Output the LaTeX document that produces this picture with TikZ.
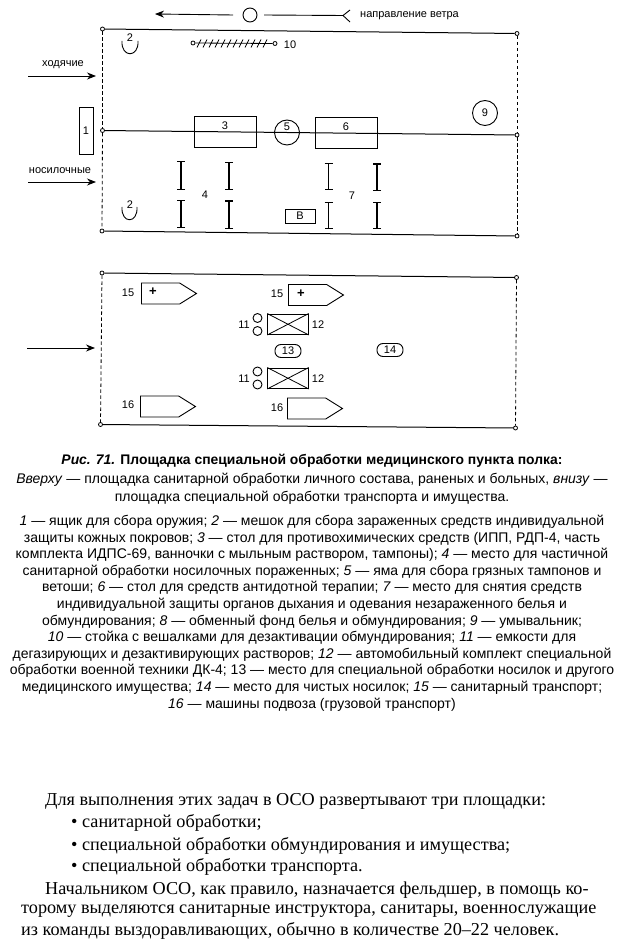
\documentclass[tikz,border=0pt]{standalone}
\usepackage{fontspec}
\setmainfont{Liberation Serif}
\newfontfamily\capfont{Liberation Sans}
\usetikzlibrary{arrows.meta}
\usetikzlibrary{shapes.symbols}
\newcommand{\ii}[1]{\textit{#1}}
\begin{document}
\begin{tikzpicture}[x=1pt, y=-1pt,
    lbl/.style={font=\capfont\fontsize{11}{12}\selectfont, inner sep=0pt},
    pin/.style={circle, draw, fill=white, line width=0.8pt, minimum size=4pt, inner sep=0pt},
    box/.style={rectangle, draw, line width=0.9pt, inner sep=0pt, font=\capfont\fontsize{11}{12}\selectfont},
    ring/.style={circle, draw, line width=0.9pt, inner sep=0pt, font=\capfont\fontsize{11}{12}\selectfont},
    oval/.style={rectangle, rounded corners=6pt, draw, line width=0.9pt, minimum width=26pt, minimum height=13pt, inner sep=0pt, font=\capfont\fontsize{11}{12}\selectfont},
    truck/.style={shape=signal, signal to=east, signal from=nowhere, signal pointer angle=64, draw, line width=0.9pt, minimum width=55pt, minimum height=21pt, inner sep=0pt, anchor=west},
    border/.style={line width=1pt},
    fence/.style={line width=0.8pt, dashed, dash pattern=on 3.5pt off 2.5pt},
    flow/.style={-{Stealth[length=9pt, width=7pt]}, line width=0.9pt},
    post/.style={{Bar[width=8pt]}-{Bar[width=8pt]}, line width=1.1pt},
    capline/.style={font=\capfont\fontsize{14}{16.6}\selectfont, align=center, inner sep=0pt},
    bodyline/.style={font=\fontsize{18.2}{20}\selectfont, inner sep=0pt, anchor=west},
  ]
  \useasboundingbox (0,0) rectangle (624,941);

  % wind
  \node[ring, minimum size=14pt] (wind) at (250,15) {};
  \coordinate (windhead) at (155,14);
  \coordinate (windtail) at (343,15.5);
  \draw[flow] (wind) ++(-17,0) -- (windhead);
  \draw[line width=0.9pt] (264,15) -- (windtail);
  \draw[line width=0.9pt] (350,10) -- (windtail) -- (350,22);
  \node[lbl, anchor=west] (windtext) at (360,16) {направление ветра};

  % upper site
  \node[pin] (ul) at (102.5,29) {};
  \node[pin] (ur) at (517,33.5) {};
  \node[pin] (ml) at (102.5,130.5) {};
  \node[pin] (mr) at (517,135) {};
  \node[pin] (ll) at (102,231) {};
  \node[pin] (lr) at (517,236) {};
  \draw[border] (ul) -- (ur);
  \draw[border] (ll) -- (lr);
  \draw[fence] (ul) -- (ml);
  \draw[fence] (ml) -- (ll);
  \draw[fence] (ur) -- (mr);
  \draw[fence] (mr) -- (lr);

  \draw[border] (ml) -- (mr);
  \node[box, minimum width=14pt, minimum height=47pt] (ammo) at (86,130.5) {1};
  \node[box, minimum width=62pt, minimum height=31pt] (table3) at (225,131.5) {};
  \node[lbl] (n3) at (225,126) {3};
  \node[ring, minimum size=25pt] (pit) at (287,132.5) {};
  \node[lbl] (n5) at (287,127) {5};
  \node[box, minimum width=62pt, minimum height=31pt] (table6) at (346,132.5) {};
  \node[lbl] (n6) at (346,127) {6};
  \node[ring, minimum size=25pt] (wash) at (485,113) {9};
  \node[box, minimum width=30pt, minimum height=14pt] (fund) at (300,216) {В};

  % bags
  \draw[line width=0.9pt] (122,41) .. controls (121,58) and (139,58) .. (138,41);
  \node[lbl] (bag1) at (130,38) {2};
  \draw[line width=0.9pt] (122,207) .. controls (121,224) and (138,224) .. (137,207);
  \node[lbl] (bag2) at (130,205) {2};

  % rack
  \node[pin] (racka) at (193,43) {};
  \node[pin] (rackb) at (275,43.5) {};
  \draw[line width=0.8pt] (racka) -- (rackb);
  \foreach \x in {199,205,...,268}
    \draw[line width=0.7pt] (\x-2,47.5) -- (\x+2,39.5);
  \node[lbl] (n10) at (290,44.5) {10};

  % incoming
  \coordinate (walkin) at (28,76);
  \coordinate (walkend) at (96,76);
  \coordinate (carryin) at (28,182);
  \coordinate (carryend) at (96,182);
  \draw[flow] (walkin) -- (walkend);
  \draw[flow] (carryin) -- (carryend);
  \node[lbl] (walk) at (63,65) {ходячие};
  \node[lbl] (carry) at (60,171) {носилочные};

  % stands
  \foreach \x/\a/\b/\c/\d in {181/161/190/200/228, 229/162/190/200.5/229, 328.5/163/190/202/229, 377/163.5/191/202/229} {
    \draw[post] (\x,\a) -- (\x,\b);
    \draw[post] (\x,\c) -- (\x,\d);
  }
  \node[lbl] (n4) at (205,195) {4};
  \node[lbl] (n7) at (352,196) {7};

  % lower site
  \node[pin] (tl) at (102,273) {};
  \node[pin] (tr) at (516.5,277.5) {};
  \node[pin] (bl) at (100.5,424.5) {};
  \node[pin] (br) at (515.5,428) {};
  \draw[border] (tl) -- (tr);
  \draw[border] (bl) -- (br);
  \draw[fence] (tl) -- (bl);
  \draw[fence] (tr) -- (br);
  \coordinate (carin) at (27,348);
  \coordinate (carend) at (95,348);
  \draw[flow] (carin) -- (carend);

  \node[truck] (amb1) at (141,293.5) {};
  \node[truck] (amb2) at (288,295) {};
  \node[truck] (sup1) at (140,406.5) {};
  \node[truck] (sup2) at (287,408.5) {};
  \node[lbl] (n15a) at (128,293) {15};
  \node[lbl] (n15b) at (277,294) {15};
  \node[lbl] (n16a) at (128,405) {16};
  \node[lbl] (n16b) at (277,408) {16};
  \node[lbl, font=\capfont\bfseries\fontsize{13}{13}\selectfont] (plus1) at (153,292) {+};
  \node[lbl, font=\capfont\bfseries\fontsize{13}{13}\selectfont] (plus2) at (301,294) {+};

  \foreach \k/\y/\cy in {a/324.25/318, b/378.25/371.5} {
    \node[box, minimum width=40.5pt, minimum height=20.5pt] (kit\k) at (288,\y) {};
    \draw[line width=0.8pt] (kit\k.north west) -- (kit\k.south east);
    \draw[line width=0.8pt] (kit\k.south west) -- (kit\k.north east);
    \node[ring, minimum size=9pt] (cana\k) at (257.5,\cy) {};
    \node[ring, minimum size=9pt] (canb\k) at (257.5,\cy+13) {};
    \node[lbl] (n11\k) at (244,\y) {11};
    \node[lbl] (n12\k) at (318,\y) {12};
  }
  \node[oval] (n13) at (288,351) {13};
  \node[oval] (n14) at (390,350) {14};

  % text
  \node[capline, font=\capfont\bfseries\fontsize{13.9}{16}\selectfont] (title) at (312,461)
    {\textit{Рис. 71.} Площадка специальной обработки медицинского пункта полка:};
  \node[capline, font=\capfont\fontsize{14}{18}\selectfont] (sub) at (312,489)
    {\ii{Вверху} — площадка санитарной обработки личного состава, раненых и больных, \ii{внизу} —\\
     площадка специальной обработки транспорта и имущества.};
  \node[capline] (legend) at (312,613)
    {\ii{1} — ящик для сбора оружия; \ii{2} — мешок для сбора зараженных средств индивидуальной\\
     защиты кожных покровов; \ii{3} — стол для противохимических средств (ИПП, РДП-4, часть\\
     комплекта ИДПС-69, ванночки с мыльным раствором, тампоны); \ii{4} — место для частичной\\
     санитарной обработки носилочных пораженных; \ii{5} — яма для сбора грязных тампонов и\\
     ветоши; \ii{6} — стол для средств антидотной терапии; \ii{7} — место для снятия средств\\
     индивидуальной защиты органов дыхания и одевания незараженного белья и\\
     обмундирования; \ii{8} — обменный фонд белья и обмундирования; \ii{9} — умывальник;\\
     \ii{10} — стойка с вешалками для дезактивации обмундирования; \ii{11} — емкости для\\
     дегазирующих и дезактивирующих растворов; \ii{12} — автомобильный комплект специальной\\
     обработки военной техники ДК-4; 13 — место для специальной обработки носилок и другого\\
     медицинского имущества; \ii{14} — место для чистых носилок; \ii{15} — санитарный транспорт;\\
     \ii{16} — машины подвоза (грузовой транспорт)};

  \node[bodyline] (b1) at (45,801) {Для выполнения этих задач в ОСО развертывают три площадки:};
  \node[bodyline] (b2) at (71,823) {• санитарной обработки;};
  \node[bodyline] (b3) at (71,846) {• специальной обработки обмундирования и имущества;};
  \node[bodyline] (b4) at (71,867) {• специальной обработки транспорта.};
  \node[bodyline] (b5) at (45,890) {Начальником ОСО, как правило, назначается фельдшер, в помощь ко-};
  \node[bodyline] (b6) at (21,911) {торому выделяются санитарные инструктора, санитары, военнослужащие};
  \node[bodyline] (b7) at (21,931) {из команды выздоравливающих, обычно в количестве 20–22 человек.};
\end{tikzpicture}
\end{document}
